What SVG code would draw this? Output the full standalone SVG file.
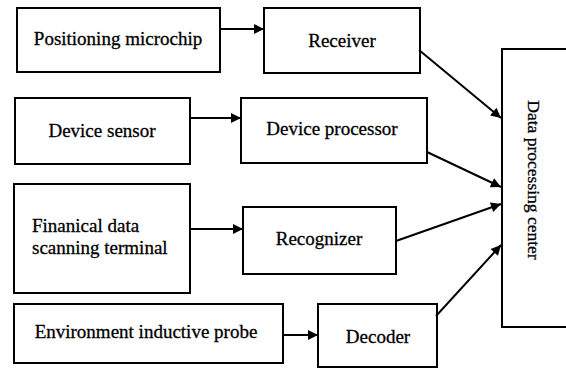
<svg xmlns="http://www.w3.org/2000/svg" width="566" height="369" viewBox="0 0 566 369">
  <style>
    .box { fill: #fff; stroke: #000; stroke-width: 2; }
    .lbl { font-family: 'Liberation Serif', 'DejaVu Serif', 'Times New Roman', serif; font-size: 19px; fill: #000; stroke: #000; stroke-width: 0.3; }
    .mid { text-anchor: middle; }
    .vert { font-size: 17.5px; }
    .wire { stroke: #000; stroke-width: 2; fill: none; marker-end: url(#head); }
  </style>
  <defs>
    <marker id="head" viewBox="0 0 10 10" refX="10" refY="5" markerWidth="11" markerHeight="10" markerUnits="userSpaceOnUse" orient="auto">
      <path d="M0,0 L10,5 L0,10 z" fill="#000"/>
    </marker>
  </defs>
  <rect width="566" height="369" fill="#fff"/>

  <g id="positioning-microchip">
    <rect class="box" x="17" y="8" width="203" height="64"/>
    <text class="lbl mid" x="118" y="45">Positioning microchip</text>
  </g>
  <g id="receiver">
    <rect class="box" x="264" y="8" width="156" height="65"/>
    <text class="lbl mid" x="342" y="47">Receiver</text>
  </g>
  <g id="device-sensor">
    <rect class="box" x="15" y="98" width="175" height="66"/>
    <text class="lbl mid" x="102" y="137">Device sensor</text>
  </g>
  <g id="device-processor">
    <rect class="box" x="241" y="98" width="186" height="65"/>
    <text class="lbl mid" x="332" y="135">Device processor</text>
  </g>
  <g id="financial-terminal">
    <rect class="box" x="14" y="184" width="176" height="109"/>
    <text class="lbl" x="32" y="232">Finanical data</text>
    <text class="lbl" x="32" y="254">scanning terminal</text>
  </g>
  <g id="recognizer">
    <rect class="box" x="243" y="207" width="153" height="67"/>
    <text class="lbl mid" x="319" y="245">Recognizer</text>
  </g>
  <g id="environment-probe">
    <rect class="box" x="14" y="304" width="269" height="59"/>
    <text class="lbl mid" x="146" y="338">Environment inductive probe</text>
  </g>
  <g id="decoder">
    <rect class="box" x="318" y="304" width="119" height="63"/>
    <text class="lbl mid" x="378" y="343">Decoder</text>
  </g>
  <g id="data-center">
    <rect class="box" x="502" y="49" width="70" height="278"/>
    <text class="lbl mid vert" transform="translate(528,180) rotate(90)" x="0" y="0">Data processing center</text>
  </g>

  <g id="connectors">
    <line class="wire" x1="220" y1="29" x2="264" y2="29"/>
    <line class="wire" x1="190" y1="118" x2="241" y2="118"/>
    <line class="wire" x1="190" y1="229" x2="243" y2="229"/>
    <line class="wire" x1="283" y1="335" x2="318" y2="335"/>
    <line class="wire" x1="419" y1="50" x2="501" y2="118"/>
    <line class="wire" x1="427" y1="152" x2="501" y2="187"/>
    <line class="wire" x1="396" y1="241" x2="501" y2="204"/>
    <line class="wire" x1="436" y1="316" x2="501" y2="245"/>
  </g>
</svg>
